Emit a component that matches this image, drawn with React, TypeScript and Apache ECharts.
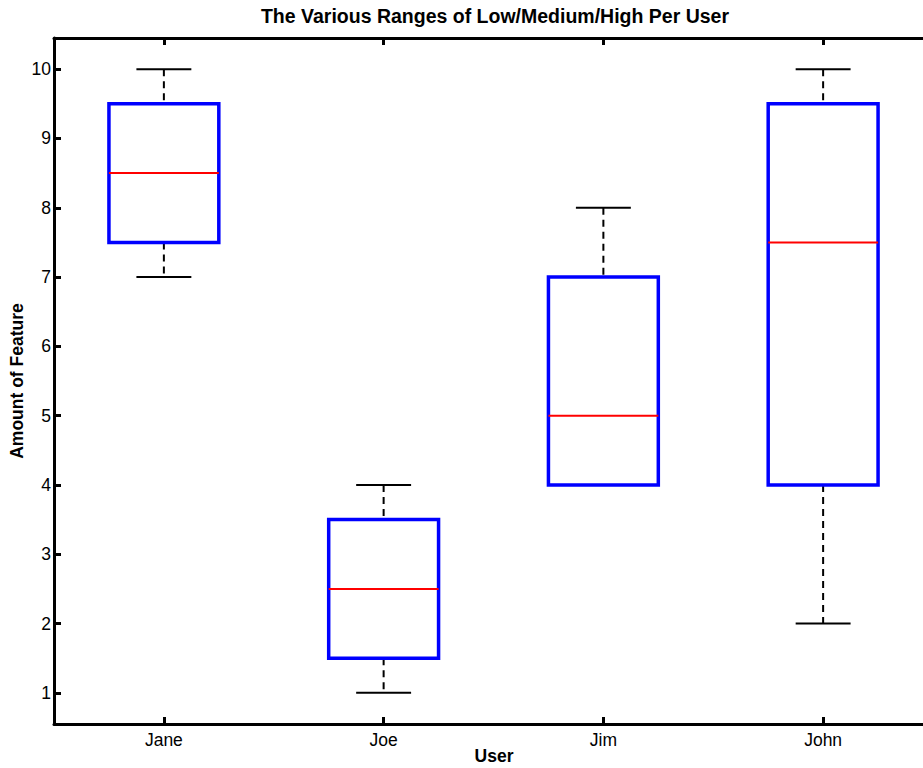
import React, { useEffect, useRef } from "react";
import * as echarts from "echarts";

const users = ["Jane", "Joe", "Jim", "John"];
const whiskerLow = [7, 1, 4, 2];
const quartile1 = [7.5, 1.5, 4, 4];
const medians = [8.5, 2.5, 5, 7.5];
const quartile3 = [9.5, 3.5, 7, 9.5];
const whiskerHigh = [10, 4, 8, 10];
const yTicks = [1, 2, 3, 4, 5, 6, 7, 8, 9, 10];

const FONT = "'Liberation Sans', Arial, Helvetica, sans-serif";

export default function App() {
  const ref = useRef<HTMLDivElement>(null);

  useEffect(() => {
    if (!ref.current) return;
    const chart = echarts.init(ref.current, undefined, { renderer: "svg" });
    const data = users.map((_, i) => [
      i,
      whiskerLow[i],
      quartile1[i],
      medians[i],
      quartile3[i],
      whiskerHigh[i],
    ]);

    const renderItem = (params: any, api: any) => {
      const idx = api.value(0);
      const band = api.size([1, 0])[0];
      const pLow = api.coord([idx, api.value(1)]);
      const pQ1 = api.coord([idx, api.value(2)]);
      const pMed = api.coord([idx, api.value(3)]);
      const pQ3 = api.coord([idx, api.value(4)]);
      const pHigh = api.coord([idx, api.value(5)]);
      const cx = pMed[0];
      const boxHalf = band * 0.25;
      const capHalf = band * 0.125;
      const dashStyle = { stroke: "#000", lineWidth: 2, lineDash: [7, 5], fill: null };
      const capStyle = { stroke: "#000", lineWidth: 2, fill: null };
      const children: any[] = [];
      if (pHigh[1] < pQ3[1] - 0.5) {
        children.push({
          type: "line",
          shape: { x1: cx, y1: pHigh[1], x2: cx, y2: pQ3[1] },
          style: dashStyle,
        });
      }
      if (pLow[1] > pQ1[1] + 0.5) {
        children.push({
          type: "line",
          shape: { x1: cx, y1: pQ1[1], x2: cx, y2: pLow[1] },
          style: dashStyle,
        });
      }
      children.push({
        type: "line",
        shape: { x1: cx - capHalf, y1: pHigh[1], x2: cx + capHalf, y2: pHigh[1] },
        style: capStyle,
      });
      children.push({
        type: "line",
        shape: { x1: cx - capHalf, y1: pLow[1], x2: cx + capHalf, y2: pLow[1] },
        style: capStyle,
      });
      children.push({
        type: "rect",
        shape: { x: cx - boxHalf, y: pQ3[1], width: boxHalf * 2, height: pQ1[1] - pQ3[1] },
        style: { fill: "none", stroke: "#0000ff", lineWidth: 3.5 },
      });
      children.push({
        type: "line",
        shape: { x1: cx - boxHalf, y1: pMed[1], x2: cx + boxHalf, y2: pMed[1] },
        style: { stroke: "#ff0000", lineWidth: 2, fill: null },
      });
      return { type: "group", children };
    };

    const labelStyle = {
      fontFamily: FONT,
      fontSize: 17.5,
      fontWeight: "bold",
      fill: "#000",
      textAlign: "center",
      textVerticalAlign: "middle",
    };

    chart.setOption({
      animation: false,
      backgroundColor: "#ffffff",
      textStyle: { fontFamily: FONT },
      graphic: [
        {
          type: "text",
          x: 495,
          y: 16,
          style: {
            text: "The Various Ranges of Low/Medium/High Per User",
            fontFamily: FONT,
            fontSize: 19.5,
            fontWeight: "bold",
            fill: "#000",
            textAlign: "center",
            textVerticalAlign: "middle",
          },
        },
        {
          type: "text",
          x: 494,
          y: 756,
          style: { ...labelStyle, text: "User" },
        },
        {
          type: "text",
          x: 17,
          y: 381,
          rotation: Math.PI / 2,
          style: { ...labelStyle, text: "Amount of Feature" },
        },
      ],
      grid: {
        left: 54,
        top: 38,
        width: 879,
        height: 686,
        containLabel: false,
        outerBoundsMode: "none",
      },
      xAxis: [
        {
          type: "category",
          data: users,
          position: "bottom",
          boundaryGap: true,
          axisLine: { show: true, onZero: false, lineStyle: { color: "#000", width: 3 } },
          axisTick: { show: true, inside: true, alignWithLabel: true, length: 7, lineStyle: { color: "#000", width: 3 } },
          axisLabel: { show: true, margin: 7, fontFamily: FONT, fontSize: 17.5, color: "#000" },
          splitLine: { show: false },
        },
        {
          type: "category",
          data: users,
          position: "top",
          boundaryGap: true,
          axisLine: { show: true, onZero: false, lineStyle: { color: "#000", width: 3 } },
          axisTick: { show: true, inside: true, alignWithLabel: true, length: 7, lineStyle: { color: "#000", width: 3 } },
          axisLabel: { show: false },
          splitLine: { show: false },
        },
      ],
      yAxis: [
        {
          type: "value",
          min: 0.55,
          max: 10.45,
          axisLine: { show: true, onZero: false, lineStyle: { color: "#000", width: 3 } },
          axisTick: { show: true, inside: true, length: 7, customValues: yTicks, lineStyle: { color: "#000", width: 3 } },
          axisLabel: { show: true, margin: 3, customValues: yTicks, fontFamily: FONT, fontSize: 17.5, color: "#000" },
          splitLine: { show: false },
        },
      ],
      series: [
        {
          type: "custom",
          xAxisIndex: 0,
          yAxisIndex: 0,
          renderItem,
          encode: { x: 0, y: [1, 2, 3, 4, 5] },
          data,
          clip: false,
        },
      ],
    });

    return () => chart.dispose();
  }, []);

  return (
    <div
      style={{
        position: "absolute",
        left: 0,
        top: 0,
        width: 923,
        height: 768,
        overflow: "hidden",
        background: "#fff",
      }}
    >
      <div ref={ref} style={{ width: 945, height: 768 }} />
    </div>
  );
}
